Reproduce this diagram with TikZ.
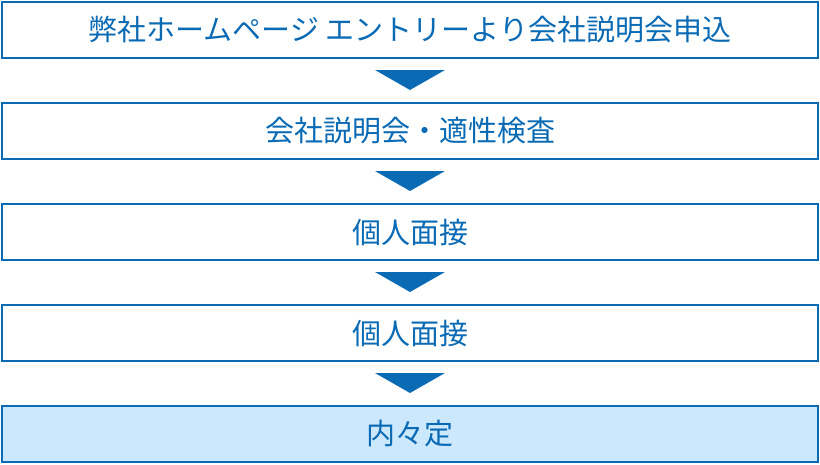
\documentclass[tikz,border=0pt]{standalone}
\usepackage{fontspec}
\newfontfamily\cjk{Noto Sans CJK JP}
\definecolor{bl}{HTML}{0A6AB4}
\definecolor{lf}{HTML}{CCE8FC}
\begin{document}
\begin{tikzpicture}[x=1pt,y=-1pt,
  stepbox/.style={draw=bl,line width=2pt,minimum width=816pt,minimum height=56pt,inner sep=0pt,text=bl,font=\cjk\fontsize{29}{32}\selectfont},
  tri/.style={fill=bl,draw=none}]
\useasboundingbox (0,0) rectangle (820,464);
\node[stepbox] (b1) at (410,30) {弊社ホームページ エントリーより会社説明会申込};
\node[stepbox] (b2) at (410,131) {会社説明会・適性検査};
\node[stepbox] (b3) at (410,232) {個人面接};
\node[stepbox] (b4) at (410,333) {個人面接};
\node[stepbox,fill=lf] (b5) at (410,434) {内々定};
\foreach \y in {70,171,272,373}{
  \fill[bl] (375,\y) -- (445,\y) -- (410,\y+20) -- cycle;}
\end{tikzpicture}
\end{document}
